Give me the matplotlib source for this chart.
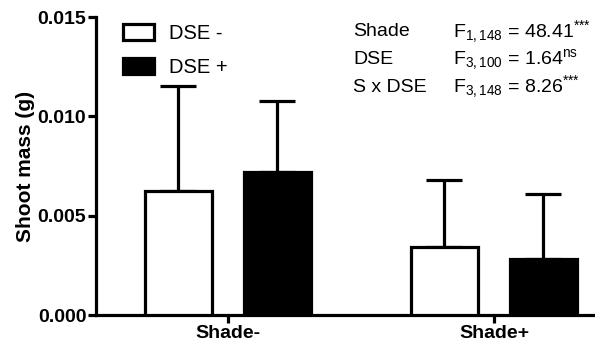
import matplotlib
matplotlib.use("Agg")
import matplotlib.pyplot as plt
import numpy as np

plt.rcParams['font.family'] = ['Liberation Sans', 'DejaVu Sans']
plt.rcParams['mathtext.fontset'] = 'custom'
plt.rcParams['mathtext.rm'] = 'Liberation Sans'
plt.rcParams['mathtext.it'] = 'Liberation Sans'
plt.rcParams['mathtext.bf'] = 'Liberation Sans:bold'

groups = ["Shade-", "Shade+"]
series = ["DSE -", "DSE +"]
means_dse_minus = [0.00625, 0.0034]
err_dse_minus = [0.00527, 0.0034]
means_dse_plus = [0.00719, 0.0028]
err_dse_plus = [0.00358, 0.00328]
stats_labels = ["Shade", "DSE", "S x DSE"]
stats_values = [r"F$_{1,148}$ = 48.41$^{{*}{*}{*}}$",
                r"F$_{3,100}$ = 1.64$^{\mathrm{ns}}$",
                r"F$_{3,148}$ = 8.26$^{{*}{*}{*}}$"]

fig = plt.figure(figsize=(5.95, 3.49), dpi=100)
ax = fig.add_axes([96/595, 34/349, 1 - 96/595, (315-17)/349])

x = np.arange(len(groups))
w = 0.252
off = 0.186
lw = 2.3
ax.bar(x - off, means_dse_minus, w, color='white', edgecolor='black', linewidth=lw, label=series[0], zorder=3)
ax.bar(x + off, means_dse_plus, w, color='black', edgecolor='black', linewidth=lw, label=series[1], zorder=3)
ax.errorbar(x - off, means_dse_minus, yerr=[np.zeros(2), err_dse_minus], fmt='none', ecolor='black',
            elinewidth=lw, capsize=13, capthick=lw, zorder=2)
ax.errorbar(x + off, means_dse_plus, yerr=[np.zeros(2), err_dse_plus], fmt='none', ecolor='black',
            elinewidth=lw, capsize=13, capthick=lw, zorder=2)

ax.set_xlim(-0.496, 1.38)
ax.set_ylim(0, 0.015)
ax.set_yticks([0.0, 0.005, 0.010, 0.015])
ax.set_yticklabels(["0.000", "0.005", "0.010", "0.015"], fontweight='bold', fontsize=14)
ax.set_xticks(x)
ax.set_xticklabels(groups, fontweight='bold', fontsize=14)
ax.set_ylabel("Shoot mass (g)", fontweight='bold', fontsize=15, labelpad=2)

for s in ['top', 'right']:
    ax.spines[s].set_visible(False)
for s in ['left', 'bottom']:
    ax.spines[s].set_linewidth(lw)
ax.tick_params(axis='both', width=lw, length=6, direction='out', pad=1)

leg = ax.legend(loc='upper left', bbox_to_anchor=((123-96)/499, 0.978), frameon=False, fontsize=14.5,
                handlelength=1.55, handleheight=0.85, labelspacing=0.75, handletextpad=0.75,
                borderpad=0, borderaxespad=0)

ys = [32, 60, 87]
for lab, val, yy in zip(stats_labels, stats_values, ys):
    fig.text(353/595, 1 - yy/349, lab, fontsize=14, va='center', ha='left')
    fig.text(453/595, 1 - yy/349, val, fontsize=14, va='center', ha='left')

fig.savefig("out.png", dpi=100)
